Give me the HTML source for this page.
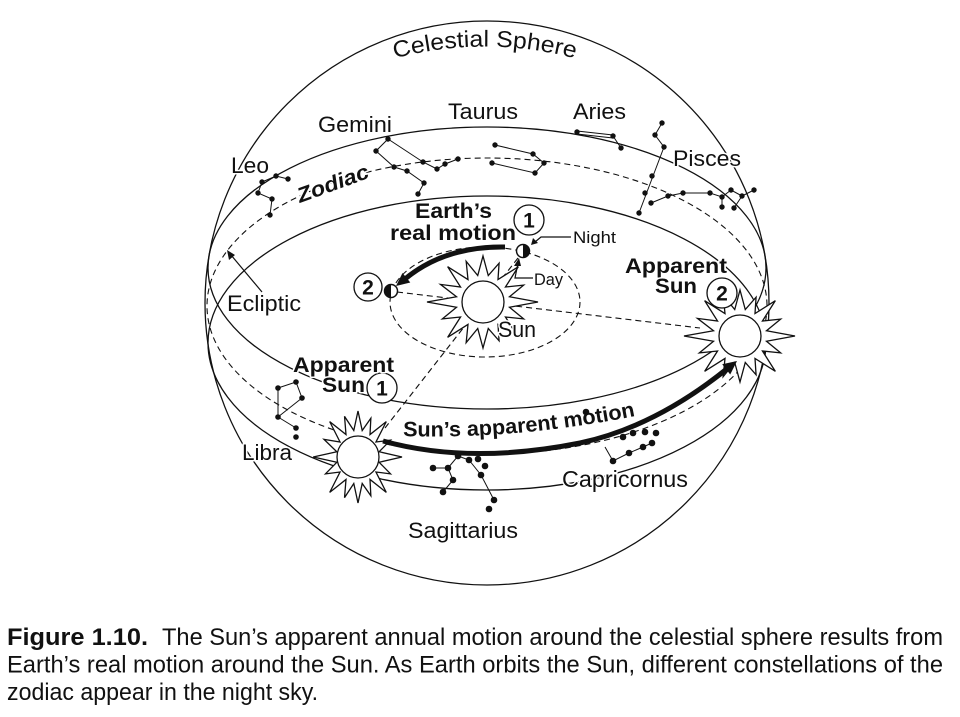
<!DOCTYPE html>
<html>
<head>
<meta charset="utf-8">
<style>
  html,body{margin:0;padding:0;background:#fff;}
  svg{display:block;}
  text{font-family:"Liberation Sans", Arial, sans-serif; fill:#111;}
  .h{stroke:#fff;stroke-width:3;paint-order:stroke;stroke-linejoin:round;}
  .b{font-weight:bold;}
</style>
</head>
<body>
<svg width="960" height="717" viewBox="0 0 960 717" xmlns="http://www.w3.org/2000/svg">
  <defs>
    <polygon id="star" points="55,0 26.48,5.27 40.65,16.84 22.45,15 35.36,35.36 15,22.45 16.07,38.8 5.27,26.48 0,46 -5.27,26.48 -16.84,40.65 -15,22.45 -35.36,35.36 -22.45,15 -40.65,16.84 -26.48,5.27 -56,0 -26.48,-5.27 -42.5,-17.6 -22.45,-15 -35.36,-35.36 -15,-22.45 -16.84,-40.65 -5.27,-26.48 0,-46 5.27,-26.48 16.07,-38.8 15,-22.45 35.36,-35.36 22.45,-15 40.65,-16.84 26.48,-5.27" fill="#fff" stroke="#111" stroke-width="1.3" vector-effect="non-scaling-stroke" stroke-linejoin="miter"/>
    <path id="cpath" d="M 370 66 A 350 350 0 0 1 600 66" fill="none"/>
    <path id="spath" d="M 400 436 Q 520 440 645 414" fill="none"/>
  </defs>

  <!-- sphere and band -->
  <g fill="none" stroke="#111" stroke-width="1.3">
    <circle cx="487" cy="303" r="282"/>
    <ellipse cx="487" cy="268" rx="279" ry="141"/>
    <ellipse cx="487" cy="343" rx="279" ry="147"/>
  </g>
  <g fill="none" stroke="#111" stroke-width="1.1" stroke-dasharray="6 4">
    <ellipse cx="487" cy="306" rx="280" ry="148"/>
    <ellipse cx="485" cy="302" rx="95" ry="55"/>
    <line x1="397" y1="292" x2="700" y2="328"/>
    <line x1="518" y1="258" x2="385" y2="428"/>
  </g>

  <!-- constellation lines -->
  <g fill="none" stroke="#111" stroke-width="1">
    <path d="M262,182 L276,176 L288,179 M262,182 L258,193 L272,199 L270,215"/>
    <path d="M388,139 L376,151 L394,167 L407,171 L424,183 L418,194 M388,139 L423,162 L437,169 L445,164 L458,159"/>
    <path d="M495,145 L533,154 L544,163 L535,173 L492,163"/>
    <path d="M577,131 L613,135 M577,134 L613,138 M613,136 L621,148"/>
    <path d="M662,123 L655,135 L664,147 L639,213 M651,203 L668,196 L683,193 L710,193 L722,197 L731,190 L742,196 L754,190 M742,196 L734,208 M722,197 L722,207"/>
    <path d="M278,388 L296,382 L302,398 L278,417 L278,388 M278,417 L296,428"/>
    <path d="M433,468 L448,468 L458,456 L469,460 L481,475 L494,500 M448,468 L453,480 L443,492"/>
    <path d="M605,447 L613,461 L629,453 L643,447 L652,443"/>
  </g>

  <!-- stars -->
  <g fill="#111">
    <circle cx="262" cy="182" r="2.7"/><circle cx="276" cy="176" r="2.7"/><circle cx="288" cy="179" r="2.7"/><circle cx="258" cy="193" r="2.7"/><circle cx="272" cy="199" r="2.7"/><circle cx="270" cy="215" r="2.7"/>
    <circle cx="388" cy="139" r="2.7"/><circle cx="376" cy="151" r="2.7"/><circle cx="394" cy="167" r="2.7"/><circle cx="407" cy="171" r="2.7"/><circle cx="424" cy="183" r="2.7"/><circle cx="418" cy="194" r="2.7"/><circle cx="423" cy="162" r="2.7"/><circle cx="437" cy="169" r="2.7"/><circle cx="445" cy="164" r="2.7"/><circle cx="458" cy="159" r="2.7"/>
    <circle cx="495" cy="145" r="2.7"/><circle cx="533" cy="154" r="2.7"/><circle cx="544" cy="163" r="2.7"/><circle cx="492" cy="163" r="2.7"/><circle cx="535" cy="173" r="2.7"/>
    <circle cx="577" cy="132" r="2.7"/><circle cx="613" cy="136" r="2.7"/><circle cx="621" cy="148" r="2.7"/>
    <circle cx="662" cy="123" r="2.7"/><circle cx="655" cy="135" r="2.7"/><circle cx="664" cy="147" r="2.7"/><circle cx="652" cy="176" r="2.7"/><circle cx="645" cy="193" r="2.7"/><circle cx="651" cy="203" r="2.7"/><circle cx="639" cy="213" r="2.7"/><circle cx="668" cy="196" r="2.7"/><circle cx="683" cy="193" r="2.7"/><circle cx="710" cy="193" r="2.7"/><circle cx="722" cy="197" r="2.7"/><circle cx="731" cy="190" r="2.7"/><circle cx="742" cy="196" r="2.7"/><circle cx="754" cy="190" r="2.7"/><circle cx="722" cy="207" r="2.7"/><circle cx="734" cy="208" r="2.7"/>
    <circle cx="278" cy="388" r="2.8"/><circle cx="296" cy="382" r="2.8"/><circle cx="302" cy="398" r="2.8"/><circle cx="278" cy="417" r="2.8"/><circle cx="296" cy="428" r="2.8"/><circle cx="296" cy="437" r="2.8"/>
    <circle cx="433" cy="468" r="3.3"/><circle cx="448" cy="468" r="3.3"/><circle cx="458" cy="456" r="3.3"/><circle cx="469" cy="460" r="3.3"/><circle cx="478" cy="459" r="3.3"/><circle cx="485" cy="466" r="3.3"/><circle cx="453" cy="480" r="3.3"/><circle cx="443" cy="492" r="3.3"/><circle cx="481" cy="475" r="3.3"/><circle cx="494" cy="500" r="3.3"/><circle cx="489" cy="509" r="3.3"/>
    <circle cx="586" cy="412" r="3.3"/><circle cx="623" cy="437" r="3.3"/><circle cx="633" cy="433" r="3.3"/><circle cx="645" cy="432" r="3.3"/><circle cx="656" cy="433" r="3.3"/><circle cx="652" cy="443" r="3.3"/><circle cx="643" cy="447" r="3.3"/><circle cx="629" cy="453" r="3.3"/><circle cx="613" cy="461" r="3.3"/>
  </g>

  <!-- suns -->
  <g transform="translate(483,302)"><use href="#star"/><circle r="21" fill="#fff" stroke="#111" stroke-width="1.3"/></g>
  <g transform="translate(740,336)"><use href="#star"/><circle r="21" fill="#fff" stroke="#111" stroke-width="1.3"/></g>
  <g transform="translate(358,457)"><use href="#star" transform="scale(0.8,1)"/><circle r="21" fill="#fff" stroke="#111" stroke-width="1.3"/></g>

  <!-- Earths -->
  <circle cx="523" cy="251" r="6.5" fill="#fff" stroke="#111" stroke-width="1.5"/>
  <path d="M523,244.5 A6.5,6.5 0 0 1 523,257.5 Z" fill="#111"/>
  <circle cx="391" cy="291" r="6.5" fill="#fff" stroke="#111" stroke-width="1.5"/>
  <path d="M391,284.5 A6.5,6.5 0 0 0 391,297.5 Z" fill="#111"/>

  <!-- Earth's real motion arrow -->
  <path d="M505,247 Q445,246 405,279" fill="none" stroke="#111" stroke-width="5"/>
  <polygon points="396,286 410.3,282.5 402.5,273" fill="#111"/>

  <!-- Sun's apparent motion arrow -->
  <path d="M383,441 Q470,465 580,443 Q655,427 728,368" fill="none" stroke="#111" stroke-width="5"/>
  <polygon points="737,361 730.2,374.5 722.2,364.2" fill="#111"/>

  <!-- leaders -->
  <g fill="none" stroke="#111" stroke-width="1.2">
    <polyline points="571,237 541,237 535,242"/>
    <polyline points="533,278 515,278 518,263"/>
    <line x1="262" y1="292" x2="231" y2="255"/>
  </g>
  <polygon points="531,245 533,238 538,243" fill="#111"/>
  <polygon points="519,258 514,266 521,266" fill="#111"/>
  <polygon points="227,250 229,260 235,255" fill="#111"/>

  <!-- circled numbers -->
  <g fill="#fff" stroke="#111" stroke-width="1.3">
    <circle cx="529" cy="220" r="15"/>
    <circle cx="368" cy="287" r="14"/>
    <circle cx="382" cy="388" r="15"/>
    <circle cx="722" cy="293" r="15"/>
  </g>
  <g class="b" font-size="21" text-anchor="middle">
    <text x="529" y="227.5">1</text>
    <text x="368" y="294.5">2</text>
    <text x="382" y="395.5">1</text>
    <text x="722" y="300.5">2</text>
  </g>

  <!-- labels -->
  <text font-size="23"><textPath href="#cpath" startOffset="26" textLength="182" lengthAdjust="spacingAndGlyphs">Celestial Sphere</textPath></text>
  <g font-size="22">
    <text class="h" x="231" y="173" textLength="38" lengthAdjust="spacingAndGlyphs">Leo</text>
    <text class="h" x="318" y="132" textLength="74" lengthAdjust="spacingAndGlyphs">Gemini</text>
    <text class="h" x="448" y="119" textLength="70" lengthAdjust="spacingAndGlyphs">Taurus</text>
    <text class="h" x="573" y="119" textLength="53" lengthAdjust="spacingAndGlyphs">Aries</text>
    <text class="h" x="673" y="166" textLength="68" lengthAdjust="spacingAndGlyphs">Pisces</text>
    <text class="h" x="227" y="311" textLength="74" lengthAdjust="spacingAndGlyphs">Ecliptic</text>
    <text class="h" x="498" y="337" textLength="38" lengthAdjust="spacingAndGlyphs">Sun</text>
    <text class="h" x="242" y="460" textLength="50" lengthAdjust="spacingAndGlyphs">Libra</text>
    <text class="h" x="408" y="538" textLength="110" lengthAdjust="spacingAndGlyphs">Sagittarius</text>
  </g>
  <text class="h" x="562" y="487" font-size="23" textLength="126" lengthAdjust="spacingAndGlyphs">Capricornus</text>
  <text class="h" x="573" y="243" font-size="17" textLength="43" lengthAdjust="spacingAndGlyphs">Night</text>
  <text class="h" x="534" y="285" font-size="17" textLength="29" lengthAdjust="spacingAndGlyphs">Day</text>

  <text class="b h" x="300" y="203" font-size="21" font-style="italic" transform="rotate(-20 300 203)" textLength="75" lengthAdjust="spacingAndGlyphs">Zodiac</text>

  <g class="b" font-size="21">
    <text class="h" x="415" y="218" textLength="77" lengthAdjust="spacingAndGlyphs">Earth’s</text>
    <text class="h" x="390" y="240" textLength="126" lengthAdjust="spacingAndGlyphs">real motion</text>
    <text class="h" x="625" y="273" textLength="102" lengthAdjust="spacingAndGlyphs">Apparent</text>
    <text class="h" x="655" y="293" textLength="42" lengthAdjust="spacingAndGlyphs">Sun</text>
    <text class="h" x="293" y="372" textLength="101" lengthAdjust="spacingAndGlyphs">Apparent</text>
    <text class="h" x="322" y="392" textLength="43" lengthAdjust="spacingAndGlyphs">Sun</text>
  </g>
  <text class="b" font-size="21"><textPath href="#spath" startOffset="3" textLength="234" lengthAdjust="spacingAndGlyphs">Sun’s apparent motion</textPath></text>

  <!-- caption -->
  <g font-size="24" fill="#1a1a1a">
    <text class="b" x="7" y="645" textLength="141" lengthAdjust="spacingAndGlyphs">Figure 1.10.</text>
    <text x="162" y="645" textLength="781" lengthAdjust="spacingAndGlyphs">The Sun’s apparent annual motion around the celestial sphere results from</text>
    <text x="7" y="672.5" textLength="936" lengthAdjust="spacingAndGlyphs">Earth’s real motion around the Sun. As Earth orbits the Sun, different constellations of the</text>
    <text x="7" y="700" textLength="311" lengthAdjust="spacingAndGlyphs">zodiac appear in the night sky.</text>
  </g>
</svg>
</body>
</html>
